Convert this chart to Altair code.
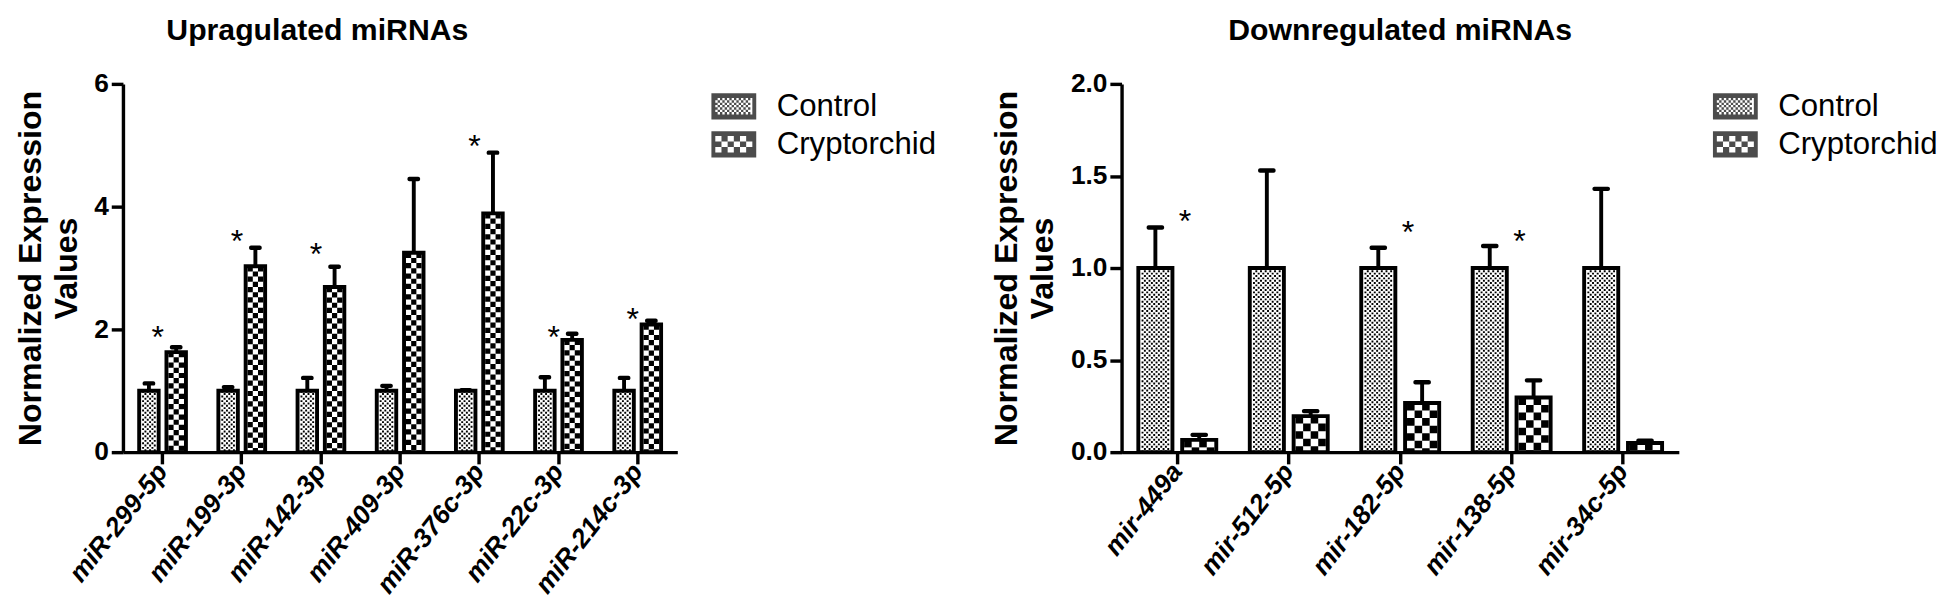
import altair as alt
import pandas as pd

# ---------------- data ----------------
series = ["Control", "Cryptorchid"]

up_cats = ["miR-299-5p", "miR-199-3p", "miR-142-3p", "miR-409-3p",
           "miR-376c-3p", "miR-22c-3p", "miR-214c-3p"]
up_ctrl = [1.0, 1.0, 1.0, 1.0, 1.0, 1.0, 1.0]
up_ctrl_sem = [0.12, 0.06, 0.21, 0.08, 0.01, 0.22, 0.21]
up_cry = [1.63, 3.03, 2.69, 3.25, 3.89, 1.83, 2.08]
up_cry_sem = [0.08, 0.30, 0.33, 1.20, 0.99, 0.10, 0.06]
up_star = [1.98, 3.54, 3.33, None, 5.10, 1.98, 2.27]

down_cats = ["mir-449a", "mir-512-5p", "mir-182-5p", "mir-138-5p", "mir-34c-5p"]
down_ctrl = [1.0, 1.0, 1.0, 1.0, 1.0]
down_ctrl_sem = [0.22, 0.53, 0.11, 0.12, 0.43]
down_cry = [0.067, 0.196, 0.267, 0.297, 0.05]
down_cry_sem = [0.027, 0.027, 0.113, 0.093, 0.012]
down_star = [1.29, None, 1.23, 1.18, None]

up_yticks = [0, 2, 4, 6]
down_yticks = [0, 0.5, 1.0, 1.5, 2.0]

FONT = "Liberation Sans"


# ---------------- legend swatch paths (styling) ----------------
def rect_cw(x0, y0, x1, y1):
    return f"M{x0:.4f},{y0:.4f}H{x1:.4f}V{y1:.4f}H{x0:.4f}Z"


def rect_ccw(x0, y0, x1, y1):
    return f"M{x0:.4f},{y0:.4f}V{y1:.4f}H{x1:.4f}V{y0:.4f}Z"


U = 1 / 23.0  # one pixel in symbol units (symbol size 2116 -> scale 23)
HX, HY = 1.0, 13.5 * U
BX, BY = 19 * U, 8.5 * U


def cry_path():
    p = rect_cw(-HX, -HY, HX, HY)
    cols, rows = 6, 3
    cw = 2 * BX / cols
    ch = 2 * BY / rows
    for r in range(rows):
        for c in range(cols):
            if (r + c) % 2 == 0:
                x0 = -BX + c * cw
                y0 = -BY + r * ch
                p += rect_ccw(x0, y0, x0 + cw, y0 + ch)
    return p


def ctrl_path():
    p = rect_cw(-HX, -HY, HX, HY)
    p += rect_ccw(-BX, -BY, BX, BY)
    cell = 2.4 * U
    cols = int(2 * BX / cell)
    rows = int(2 * BY / cell)
    for r in range(rows):
        for c in range(cols):
            if (r + c) % 2 == 0:
                x0 = -BX + c * cell
                y0 = -BY + r * cell
                p += rect_cw(x0, y0, x0 + cell, y0 + cell)
    return p


def panel(cats, ctrl, ctrl_sem, cry, cry_sem, stars, title, ymax, yticks, yfmt,
          plot_w, off, bar_w, cap_w, cry_cols, ctrl_pitch, star_dx, title_dx):
    rows = []
    for i, c in enumerate(cats):
        rows.append(dict(cat=c, series="Control", v=ctrl[i], sem=ctrl_sem[i]))
        rows.append(dict(cat=c, series="Cryptorchid", v=cry[i], sem=cry_sem[i]))
    df = pd.DataFrame(rows)
    sdf = pd.DataFrame([dict(cat=c, s=s) for c, s in zip(cats, stars) if s is not None])

    xenc = alt.X("cat:N", sort=cats,
                 scale=alt.Scale(domain=cats, paddingInner=0, paddingOuter=0),
                 axis=alt.Axis(title=None, labelAngle=-52, labelFontSize=27,
                               labelFont=FONT, labelFontStyle="italic",
                               labelFontWeight="bold", labelColor="black",
                               tickSize=12, tickWidth=3.5, tickColor="black",
                               domainWidth=3.5, domainColor="black",
                               labelPadding=3, grid=False))
    yscale = alt.Scale(domain=[0, ymax], nice=False, zero=True)
    yaxis = alt.Axis(values=yticks, format=yfmt, grid=False,
                     title=["Normalized Expression", "Values"],
                     titleFontSize=33, titleFont=FONT, titleFontWeight="bold",
                     titleColor="black", titleLineHeight=37, titlePadding=11,
                     labelFontSize=27, labelFont=FONT, labelFontWeight="bold",
                     labelColor="black", labelPadding=3,
                     tickSize=12, tickWidth=3.5, tickColor="black",
                     domainWidth=3.5, domainColor="black")
    yenc = alt.Y("v:Q", scale=yscale, axis=yaxis)

    base = alt.Chart(df).transform_calculate(hi="datum.v + datum.sem")
    layers = []
    offs = {"Control": -off, "Cryptorchid": off}
    sw = 4
    inner = bar_w - sw
    for s in series:
        f = base.transform_filter(alt.datum.series == s)
        # white fill
        layers.append(f.mark_bar(width=bar_w, xOffset=offs[s], color="white")
                      .encode(x=xenc, y=yenc))
        # pattern
        if s == "Cryptorchid":
            cell = inner / cry_cols
            for k in range(cry_cols):
                xo = offs[s] + (k - (cry_cols - 1) / 2) * cell
                layers.append(f.mark_rule(xOffset=xo, strokeWidth=cell, color="black",
                                          strokeDash=[cell, cell],
                                          strokeDashOffset=cell if k % 2 else 0,
                                          strokeCap="butt")
                              .encode(x=xenc, y=yenc, y2=alt.datum(0)))
        else:
            p = ctrl_pitch
            ncol = int(inner / p)
            d = p * 0.82
            for k in range(ncol):
                xo = offs[s] + (k - (ncol - 1) / 2) * p
                layers.append(f.mark_rule(xOffset=xo, strokeWidth=d, color="black",
                                          strokeDash=[d, 2 * p - d],
                                          strokeDashOffset=p if k % 2 else 0,
                                          strokeCap="butt")
                              .encode(x=xenc, y=yenc, y2=alt.datum(0)))
        # outline
        layers.append(f.mark_bar(width=bar_w, xOffset=offs[s], fillOpacity=0,
                                 stroke="black", strokeWidth=sw)
                      .encode(x=xenc, y=yenc))
        # error bar
        layers.append(f.mark_rule(xOffset=offs[s], strokeWidth=4, color="black")
                      .encode(x=xenc, y=yenc, y2="hi:Q"))
        layers.append(f.mark_tick(xOffset=offs[s], orient="horizontal", size=cap_w,
                                  thickness=4.5, color="black", opacity=1,
                                  cornerRadius=2)
                      .encode(x=xenc, y=alt.Y("hi:Q", scale=yscale, axis=yaxis)))
    # stars
    layers.append(alt.Chart(sdf).mark_text(text="*", fontSize=33, font=FONT,
                                           color="black", dx=star_dx, dy=18,
                                           baseline="alphabetic")
                  .encode(x=xenc, y=alt.Y("s:Q", scale=yscale, axis=yaxis)))
    # legend carrier (clipped away)
    layers.append(base.mark_point(filled=True, color="black", strokeWidth=0, clip=True)
                  .encode(x=xenc, y=alt.datum(-1),
                          shape=alt.Shape("series:N",
                                          scale=alt.Scale(domain=series,
                                                          range=[ctrl_path(), cry_path()]),
                                          legend=alt.Legend(title=None, orient="right",
                                                            offset=35,
                                                            symbolSize=2116,
                                                            symbolStrokeWidth=0,
                                                            labelFontSize=32,
                                                            labelFont=FONT,
                                                            labelColor="black",
                                                            labelOffset=21,
                                                            labelLimit=400,
                                                            rowPadding=-2,
                                                            padding=0))))
    return alt.layer(*layers).properties(
        width=plot_w, height=378,
        title=alt.TitleParams(title, fontSize=31, font=FONT, fontWeight="bold",
                              color="black", anchor="middle", offset=24,
                              dx=title_dx))


left = panel(up_cats, up_ctrl, up_ctrl_sem, up_cry, up_cry_sem, up_star,
             "Upragulated miRNAs", 6, up_yticks, "d",
             569, 14, 20, 13, 3, 2.4, -5, -85)
right = panel(down_cats, down_ctrl, down_ctrl_sem, down_cry, down_cry_sem, down_star,
              "Downregulated miRNAs", 2, down_yticks, ".1f",
              572, 22.5, 35, 18, 4, 2.4, 8, 0)

chart = alt.hconcat(left, right, spacing=56).resolve_scale(
    x="independent", y="independent", shape="independent"
).configure_view(stroke=None).properties(
    padding={"left": 6, "top": 0, "right": 0, "bottom": 0})

chart.save("out.html", embed_options={"renderer": "svg", "actions": False})
